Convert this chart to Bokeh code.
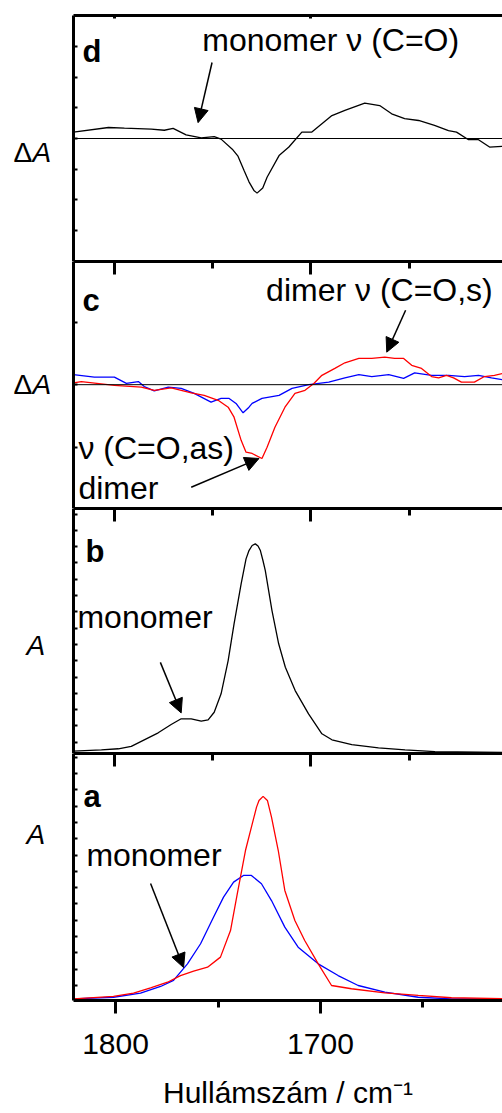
from bokeh.plotting import figure
from bokeh.layouts import column, row
from bokeh.models import Range1d, LinearAxis, FixedTicker, Span, Label, Arrow, NormalHead
from bokeh.embed import file_html
from bokeh.resources import INLINE

FONT = "Liberation Sans"

# ---------------- data (wavenumber / cm-1, absorbance units) ----------------
# panel d: difference spectrum (black)
d_wn = [1820.8, 1803.0, 1794.9, 1781.2, 1774.6, 1770.1, 1763.5, 1755.8, 1749.2, 1745.7,
        1740.0, 1737.1, 1734.0, 1731.5, 1729.0, 1727.4, 1724.5, 1722.3, 1716.2, 1711.2,
        1704.6, 1699.5, 1689.3, 1682.7, 1672.6, 1665.0, 1658.9, 1652.3, 1645.2, 1637.1,
        1630.0, 1625.9, 1619.8, 1614.7, 1609.1, 1602.5]
d_val = [0.21, 0.36, 0.34, 0.31, 0.27, 0.33, 0.12, 0.02, 0.06, -0.02,
         -0.35, -0.58, -1.05, -1.42, -1.70, -1.79, -1.62, -1.27, -0.56, -0.28,
         0.21, 0.21, 0.75, 0.92, 1.16, 1.08, 0.81, 0.65, 0.59, 0.43,
         0.26, 0.21, -0.04, -0.04, -0.28, -0.26]

# panel c: difference spectra (red, blue)
c_red_wn = [1820.8, 1816.8, 1800.0, 1786.3, 1779.7, 1771.1, 1760.9, 1754.3, 1747.2, 1742.1,
            1739.1, 1735.5, 1733.0, 1729.9, 1724.9, 1722.3, 1718.3, 1713.2, 1708.1, 1703.0,
            1698.5, 1694.4, 1687.8, 1682.7, 1675.6, 1669.0, 1662.4, 1657.4, 1652.8, 1648.7,
            1643.7, 1638.6, 1635.0, 1631.0, 1627.4, 1623.4, 1616.8, 1611.7, 1606.6, 1602.5]
c_red_val = [0.03, 0.05, -0.01, -0.04, -0.09, -0.05, -0.13, -0.17, -0.25, -0.36,
             -0.52, -0.89, -1.08, -1.10, -1.18, -1.00, -0.68, -0.36, -0.14, -0.09,
             0.02, 0.15, 0.26, 0.35, 0.42, 0.42, 0.44, 0.42, 0.42, 0.31,
             0.26, 0.13, 0.11, 0.15, 0.11, 0.04, 0.04, 0.13, 0.15, 0.18]
c_blue_wn = [1820.8, 1810.2, 1800.0, 1793.9, 1787.8, 1784.8, 1779.7, 1772.6, 1766.0, 1759.4,
             1750.8, 1745.7, 1741.6, 1738.1, 1734.5, 1731.5, 1729.9, 1724.9, 1716.2, 1709.6,
             1701.0, 1690.9, 1682.7, 1675.6, 1669.0, 1660.4, 1652.8, 1647.2, 1638.6, 1629.9,
             1621.8, 1614.7, 1608.1, 1602.5]
c_blue_val = [0.16, 0.12, 0.12, 0.02, 0.05, -0.03, -0.10, -0.04, -0.06, -0.14,
              -0.28, -0.22, -0.22, -0.30, -0.45, -0.36, -0.30, -0.22, -0.17, -0.06,
              0.00, 0.04, 0.11, 0.16, 0.13, 0.16, 0.10, 0.19, 0.15, 0.15,
              0.13, 0.15, 0.11, 0.08]

# panel b: absorbance (black)
b_wn = [1820.8, 1806.6, 1798.0, 1791.4, 1784.8, 1777.7, 1771.1, 1766.0, 1760.9, 1755.8,
        1752.3, 1749.2, 1745.7, 1742.1, 1739.1, 1735.5, 1733.0, 1731.5, 1729.9, 1728.3,
        1726.9, 1725.7, 1724.4, 1723.2, 1719.8, 1716.4, 1713.0, 1708.0, 1701.2, 1694.4,
        1689.3, 1679.2, 1665.6, 1652.1, 1636.9, 1602.5]
b_val = [-0.055, -0.047, -0.040, -0.025, 0.015, 0.058, 0.109, 0.144, 0.144, 0.129,
         0.137, 0.184, 0.297, 0.501, 0.726, 0.972, 1.125, 1.176, 1.207, 1.217,
         1.204, 1.176, 1.115, 1.053, 0.808, 0.604, 0.460, 0.317, 0.174, 0.052,
         0.015, -0.014, -0.034, -0.047, -0.057, -0.063]

# panel a: absorbance (red, blue)
a_red_wn = [1820.5, 1801.0, 1791.2, 1782.9, 1774.6, 1768.3, 1761.9, 1755.1, 1748.8, 1743.9,
            1740.6, 1736.6, 1733.7, 1731.2, 1730.0, 1728.0, 1725.9, 1723.9, 1720.6, 1717.4,
            1712.5, 1707.7, 1701.1, 1694.6, 1684.9, 1668.6, 1652.3, 1636.1, 1611.2]
a_red_val = [-0.082, -0.067, -0.047, -0.014, 0.020, 0.061, 0.088, 0.112, 0.174, 0.337,
             0.562, 0.828, 0.971, 1.094, 1.135, 1.160, 1.135, 1.033, 0.828, 0.583,
             0.399, 0.276, 0.133, 0.000, -0.020, -0.045, -0.061, -0.075, -0.080]
a_blue_wn = [1820.5, 1801.0, 1787.8, 1778.0, 1771.7, 1764.9, 1758.5, 1752.2, 1747.3, 1742.4,
             1737.6, 1733.7, 1728.8, 1723.9, 1717.4, 1710.9, 1701.1, 1691.4, 1681.6, 1668.6,
             1652.3, 1636.1, 1611.2]
a_blue_val = [-0.082, -0.072, -0.047, -0.006, 0.031, 0.133, 0.256, 0.419, 0.542, 0.634,
              0.675, 0.675, 0.624, 0.521, 0.358, 0.235, 0.133, 0.061, 0.000, -0.041,
              -0.072, -0.082, -0.082]

x_major = [1800, 1700]
x_minor = [1750, 1650]
x_title = "Hullámszám / cm⁻¹"

RED = "#ff0000"
BLUE = "#0000ff"
LAB_W = 70
ANN = "32px"
LET = "31px"


def hide_labels(ax):
    ax.major_label_text_font_size = "0px"
    ax.major_label_text_color = None
    ax.major_label_standoff = 0


def make_fig(height, xr, yr, top=0, bottom=0):
    p = figure(width=502 - LAB_W, height=height, x_range=xr, y_range=yr,
               output_backend="svg", toolbar_location=None,
               x_axis_location=None, y_axis_location=None)
    p.min_border_left = 3
    p.min_border_right = 0
    p.min_border_top = top
    p.min_border_bottom = bottom
    p.outline_line_color = None
    p.xgrid.grid_line_color = None
    p.ygrid.grid_line_color = None
    p.background_fill_color = "white"
    p.border_fill_color = "white"
    return p


def label_fig(height):
    p = figure(width=LAB_W, height=height, x_range=Range1d(0, LAB_W),
               y_range=Range1d(height, 0), output_backend="svg",
               toolbar_location=None, x_axis_location=None, y_axis_location=None)
    p.min_border = 0
    p.outline_line_color = None
    p.xgrid.grid_line_color = None
    p.ygrid.grid_line_color = None
    p.border_fill_color = "white"
    return p


def left_axis(p, ticks):
    ax = LinearAxis(ticker=FixedTicker(ticks=ticks), axis_line_width=3,
                    major_tick_in=4, major_tick_out=0, major_tick_line_width=2,
                    minor_tick_line_color=None)
    hide_labels(ax)
    p.add_layout(ax, "left")


def top_axis(p, tick_in, minor_in, range_name="default"):
    ax = LinearAxis(ticker=FixedTicker(ticks=x_major, minor_ticks=x_minor if minor_in else []),
                    x_range_name=range_name, axis_line_width=3,
                    major_tick_in=tick_in, major_tick_out=0, major_tick_line_width=3,
                    minor_tick_in=minor_in, minor_tick_out=0, minor_tick_line_width=3)
    hide_labels(ax)
    p.add_layout(ax, "above")


def bottom_line(p):
    ax = LinearAxis(ticker=FixedTicker(ticks=[]), axis_line_width=3,
                    major_tick_in=0, major_tick_out=0, minor_tick_line_color=None)
    hide_labels(ax)
    p.add_layout(ax, "below")


def txt(p, x, y, s, size=ANN, style="normal"):
    p.add_layout(Label(x=x, y=y, text=s, text_font=FONT, text_font_size=size,
                       text_font_style=style, text_align="left",
                       text_baseline="alphabetic", text_color="black"))


def arrow(p, x0, y0, x1, y1):
    p.add_layout(Arrow(end=NormalHead(size=14, fill_color="black", line_color="black"),
                       x_start=x0, y_start=y0, x_end=x1, y_end=y1,
                       line_width=1.5, line_color="black"))


def zero_line(p):
    p.add_layout(Span(location=0, dimension="width", line_color="black", line_width=1))


def ylab(lf, y, delta):
    if delta:
        txt(lf, 13, y, "Δ", size="28px")
        txt(lf, 32, y, "A", size="28px", style="italic")
    else:
        txt(lf, 26, y, "A", size="28px", style="italic")


XR_BD = (1820.8, 1602.5)
XR_A = (1820.5, 1611.2)

# ---------------- panel d ----------------
H_D = 261
pd_ = make_fig(H_D, Range1d(*XR_BD), Range1d(-4.03, 4.03), top=15)
left_axis(pd_, [-3, -2, -1, 0, 1, 2, 3])
top_axis(pd_, 3, 0)
bottom_line(pd_)
zero_line(pd_)
pd_.line(d_wn, d_val, line_color="black", line_width=1.3)
txt(pd_, 1816.2, 2.85, "d", size=LET, style="bold")
txt(pd_, 1755.3, 3.24, "monomer ν (C=O)")
arrow(pd_, 1750.3, 2.49, 1757.4, 0.52)
ld = label_fig(H_D)
ylab(ld, 145, True)

# ---------------- panel c ----------------
H_C = 247
pc = make_fig(H_C, Range1d(*XR_BD), Range1d(-1.98, 1.97))
left_axis(pc, [-1, 0, 1])
top_axis(pc, 13, 7)
bottom_line(pc)
zero_line(pc)
pc.line(c_blue_wn, c_blue_val, line_color=BLUE, line_width=1.3)
pc.line(c_red_wn, c_red_val, line_color=RED, line_width=1.3)
txt(pc, 1816.2, 1.35, "c", size=LET, style="bold")
txt(pc, 1722.8, 1.51, "dimer ν (C=O,s)")
arrow(pc, 1651.8, 1.19, 1661.4, 0.52)
txt(pc, 1818.3, -1.02, "ν (C=O,as)")
txt(pc, 1818.3, -1.66, "dimer")
arrow(pc, 1760.9, -1.64, 1726.4, -1.18)
lc = label_fig(H_C)
ylab(lc, 123, True)

# ---------------- panel b ----------------
H_B = 245
pb = make_fig(H_B, Range1d(*XR_BD), Range1d(-0.069, 1.434))
left_axis(pb, [i / 10 for i in range(0, 15)])
top_axis(pb, 13, 7)
bottom_line(pb)
pb.line(b_wn, b_val, line_color="black", line_width=1.3)
txt(pb, 1814.7, 1.17, "b", size=LET, style="bold")
txt(pb, 1818.8, 0.77, "monomer")
arrow(pb, 1776.6, 0.49, 1766.0, 0.18)
lb = label_fig(H_B)
ylab(lb, 137, False)

# ---------------- panel a ----------------
H_A = 360
pa = make_fig(H_A, Range1d(*XR_A), Range1d(-0.092, 1.423), bottom=113)
pa.extra_x_ranges = {"bd": Range1d(*XR_BD)}
left_axis(pa, [i / 10 for i in range(0, 15)])
top_axis(pa, 13, 7, range_name="bd")
bax = LinearAxis(ticker=FixedTicker(ticks=x_major, minor_ticks=x_minor), axis_line_width=3,
                 major_tick_out=13, major_tick_in=0, minor_tick_out=7, minor_tick_in=0,
                 major_tick_line_width=3, minor_tick_line_width=3,
                 major_label_text_font=FONT, major_label_text_font_size="30px",
                 major_label_text_color="black", major_label_standoff=20,
                 axis_label=x_title, axis_label_text_font=FONT,
                 axis_label_text_color="black",
                 axis_label_text_font_size="30px", axis_label_text_font_style="normal",
                 axis_label_standoff=19)
pa.add_layout(bax, "below")
pa.line(a_blue_wn, a_blue_val, line_color=BLUE, line_width=1.3)
pa.line(a_red_wn, a_red_val, line_color=RED, line_width=1.3)
txt(pa, 1815.6, 1.16, "a", size=LET, style="bold")
txt(pa, 1814.2, 0.80, "monomer")
arrow(pa, 1782.9, 0.626, 1766.8, 0.110)
la = label_fig(H_A)
ylab(la, 118, False)

layout = column(row(ld, pd_, spacing=0), row(lc, pc, spacing=0),
                row(lb, pb, spacing=0), row(la, pa, spacing=0), spacing=0)
open("out.html", "w").write(file_html(layout, INLINE))
